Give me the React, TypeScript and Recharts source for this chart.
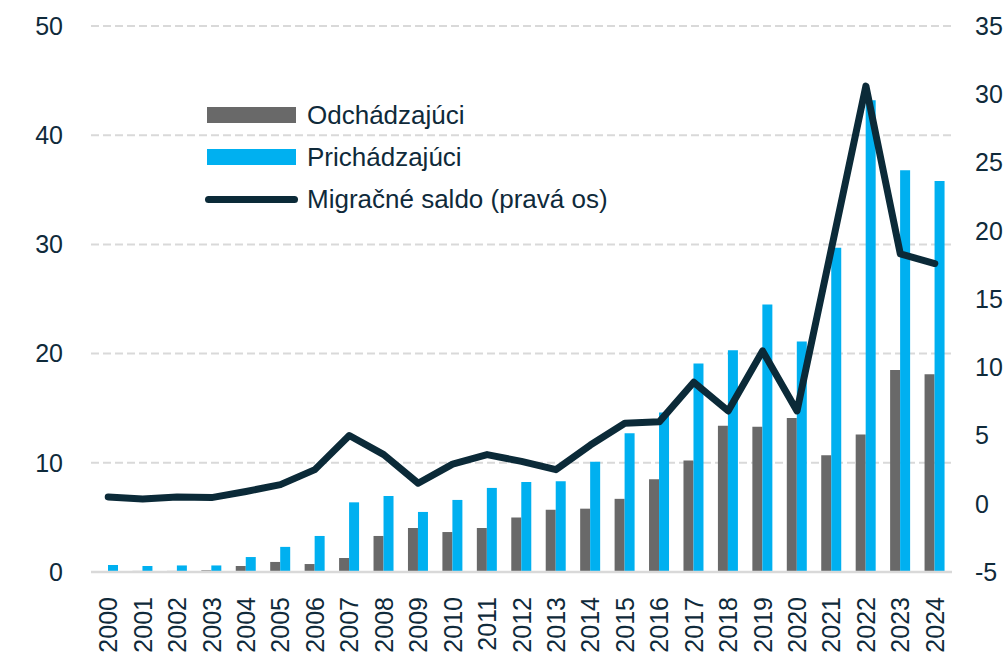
import { ComposedChart, Bar, Line, XAxis, YAxis, CartesianGrid } from 'recharts'

document.body.style.margin = '0'

const years = [
  '2000', '2001', '2002', '2003', '2004', '2005', '2006', '2007', '2008', '2009', '2010', '2011', '2012',
  '2013', '2014', '2015', '2016', '2017', '2018', '2019', '2020', '2021', '2022', '2023', '2024',
]
const odchadzajuci = [
  0.0, 0.1, 0.1, 0.15, 0.55, 0.92, 0.73, 1.28, 3.3, 4.03, 3.66, 4.03, 5.0,
  5.7, 5.8, 6.7, 8.5, 10.2, 13.4, 13.3, 14.1, 10.7, 12.6, 18.5, 18.1,
]
const prichadzajuci = [
  0.64, 0.55, 0.6, 0.6, 1.37, 2.3, 3.3, 6.38, 6.96, 5.5, 6.6, 7.7, 8.24,
  8.3, 10.1, 12.7, 14.6, 19.1, 20.3, 24.5, 21.1, 29.7, 43.2, 36.8, 35.8,
]
const saldo = [
  0.5, 0.35, 0.5, 0.45, 0.9, 1.4, 2.5, 5.0, 3.6, 1.5, 2.9, 3.6, 3.1,
  2.5, 4.3, 5.9, 6.0, 8.9, 6.8, 11.2, 6.8, 18.7, 30.6, 18.3, 17.6,
]
const leftTicks = [0, 10, 20, 30, 40, 50]
const rightTicks = [-5, 0, 5, 10, 15, 20, 25, 30, 35]

const data = years.map((year, i) => ({
  year,
  odchadzajuci: odchadzajuci[i],
  prichadzajuci: prichadzajuci[i],
  saldo: saldo[i],
}))

const font = '"Liberation Sans", Arial, sans-serif'
const textColor = '#0f2a3a'
const gray = '#696969'
const cyan = '#00b0f0'
const navy = '#0b2a38'

function YearTick(props: any) {
  const { x, y, payload } = props
  return (
    <g transform={`translate(${x},${y + 17}) rotate(-90)`}>
      <text x={0} y={0} dy="0.36em" textAnchor="end" fill={textColor} fontSize={25} fontFamily={font}>
        {payload.value}
      </text>
    </g>
  )
}

// legend sits inside the plot, top left
function LegendBox() {
  const row = { display: 'flex', alignItems: 'center', height: 42 } as const
  const label = { fontSize: 26, color: textColor, fontFamily: font, marginLeft: 11, whiteSpace: 'nowrap' } as const
  return (
    <div style={{ position: 'absolute', left: 207, top: 94 }}>
      <div style={row}>
        <div style={{ width: 89, height: 16, background: gray }} />
        <span style={label}>Odchádzajúci</span>
      </div>
      <div style={row}>
        <div style={{ width: 89, height: 16, background: cyan }} />
        <span style={label}>Prichádzajúci</span>
      </div>
      <div style={row}>
        <div style={{ width: 93, height: 7, borderRadius: 4, background: navy, marginLeft: -2 }} />
        <span style={{ ...label, marginLeft: 9 }}>Migračné saldo (pravá os)</span>
      </div>
    </div>
  )
}

export default function App() {
  return (
    <div style={{ position: 'relative', width: 1007, height: 660 }}>
      <ComposedChart
        width={1007}
        height={660}
        data={data}
        margin={{ top: 26, right: 0, left: 0, bottom: 0 }}
        barGap={0}
        style={{ fontFamily: font }}
      >
        <CartesianGrid yAxisId="left" vertical={false} stroke="#d9d9d9" strokeWidth={2} strokeDasharray="8 4" />
        <XAxis
          dataKey="year"
          height={88}
          interval={0}
          tickLine={false}
          axisLine={{ stroke: '#d9d9d9', strokeWidth: 2.5 }}
          tick={<YearTick />}
        />
        <YAxis
          yAxisId="left"
          width={91}
          domain={[0, 50]}
          ticks={leftTicks}
          tickLine={false}
          axisLine={false}
          tickSize={0}
          tickMargin={28}
          tick={{ fontSize: 25, fill: textColor, fontFamily: font }}
        />
        <YAxis
          yAxisId="right"
          orientation="right"
          width={55}
          domain={[-5, 35]}
          ticks={rightTicks}
          tickLine={false}
          axisLine={false}
          tickSize={0}
          tickMargin={23}
          tick={{ fontSize: 25, fill: textColor, fontFamily: font, textAnchor: 'start' }}
        />
        <Bar yAxisId="left" dataKey="odchadzajuci" name="Odchádzajúci" fill={gray} barSize={10} isAnimationActive={false} />
        <Bar yAxisId="left" dataKey="prichadzajuci" name="Prichádzajúci" fill={cyan} barSize={10} isAnimationActive={false} />
        <Line
          yAxisId="right"
          dataKey="saldo"
          name="Migračné saldo (pravá os)"
          type="linear"
          stroke={navy}
          strokeWidth={7}
          strokeLinecap="round"
          strokeLinejoin="round"
          dot={false}
          activeDot={false}
          isAnimationActive={false}
        />
      </ComposedChart>
      <LegendBox />
    </div>
  )
}
